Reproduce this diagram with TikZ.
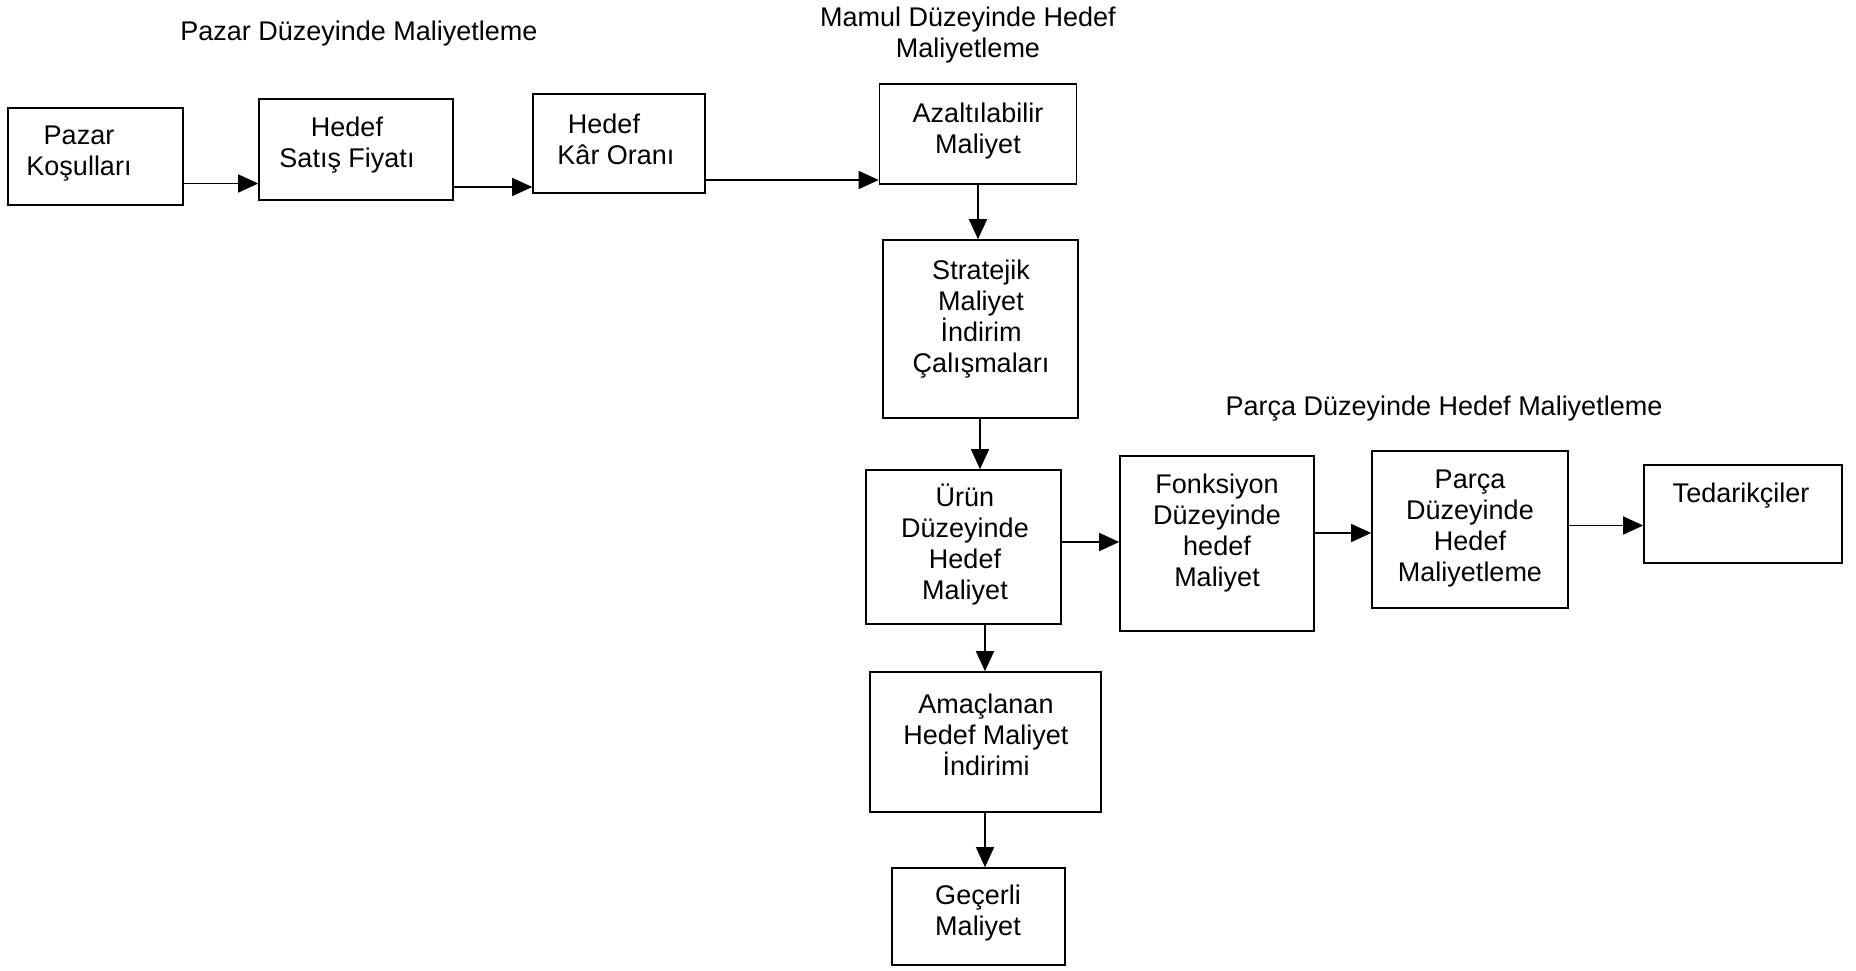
\documentclass[tikz,border=0pt]{standalone}
\usepackage{fontspec}
\setmainfont{Liberation Sans}
\usetikzlibrary{arrows.meta}
\begin{document}
\begin{tikzpicture}[x=1pt,y=-1pt,
  box/.style={draw, line width=1.6pt, rectangle, inner sep=0pt},
  txt/.style={align=center, inner sep=0pt, font=\fontsize{27}{31}\selectfont},
  arr/.style={line width=1.5pt, -{Triangle[length=20pt,width=18pt]}}]
\useasboundingbox (0,0) rectangle (1856,970);

% section titles
\node[txt] (t1) at (359,33.5) {Pazar Düzeyinde Maliyetleme};
\node[txt] (t2) at (968,35.5) {Mamul Düzeyinde Hedef\\Maliyetleme};
\node[txt] (t3) at (1444,408.5) {Parça Düzeyinde Hedef Maliyetleme};

% boxes
\node[box, minimum width=175pt, minimum height=97pt]  (pk) at (95.5,156.5) {};
\node[box, minimum width=194pt, minimum height=101pt] (sf) at (356,149.5) {};
\node[box, minimum width=172pt, minimum height=99pt]  (ko) at (619,143.5) {};
\node[box, minimum width=197pt, minimum height=100pt] (az) at (978,134) {};
\node[box, minimum width=195pt, minimum height=178pt] (st) at (980.5,329) {};
\node[box, minimum width=195pt, minimum height=154pt] (ur) at (963.5,547) {};
\node[box, minimum width=194pt, minimum height=175pt] (fo) at (1217,543.5) {};
\node[box, minimum width=196pt, minimum height=157pt] (pa) at (1470,529.5) {};
\node[box, minimum width=198pt, minimum height=98pt]  (te) at (1743,514) {};
\node[box, minimum width=231pt, minimum height=140pt] (am) at (985.5,742) {};
\node[box, minimum width=173pt, minimum height=97pt]  (ge) at (978.5,916.5) {};

% box texts
\node[txt] at (79,153.5) {Pazar\\Koşulları};
\node[txt] at (347,145.5) {Hedef\\Satış Fiyatı};
\node[txt] at (604,124) {Hedef};
\node[txt] at (616,155) {Kâr Oranı};
\node[txt] at (978,131.5) {Azaltılabilir\\Maliyet};
\node[txt] at (981,319.5) {Stratejik\\Maliyet\\İndirim\\Çalışmaları};
\node[txt] at (965,544.5) {Ürün\\Düzeyinde\\Hedef\\Maliyet};
\node[txt] at (1217,533.5) {Fonksiyon\\Düzeyinde\\hedef\\Maliyet};
\node[txt] at (1470,528.5) {Parça\\Düzeyinde\\Hedef\\Maliyetleme};
\node[txt] at (1741,495.5) {Tedarikçiler};
\node[txt] at (986,734.5) {Amaçlanan\\Hedef Maliyet\\İndirimi};
\node[txt] at (978,913.5) {Geçerli\\Maliyet};

% connectors
\draw[arr] (pk.east |- 0,183.5) -- (sf.west |- 0,183.5);
\draw[arr] (sf.east |- 0,187) -- (ko.west |- 0,187);
\draw[arr] (ko.east |- 0,180) -- (az.west |- 0,180);
\draw[arr] (az.south -| 978,0) -- (st.north -| 978,0);
\draw[arr] (st.south -| 980,0) -- (ur.north -| 980,0);
\draw[arr] (ur.east |- 0,542) -- (fo.west |- 0,542);
\draw[arr] (fo.east |- 0,533) -- (pa.west |- 0,533);
\draw[arr] (pa.east |- 0,525.5) -- (te.west |- 0,525.5);
\draw[arr] (ur.south -| 985,0) -- (am.north -| 985,0);
\draw[arr] (am.south -| 985,0) -- (ge.north -| 985,0);
\end{tikzpicture}
\end{document}
